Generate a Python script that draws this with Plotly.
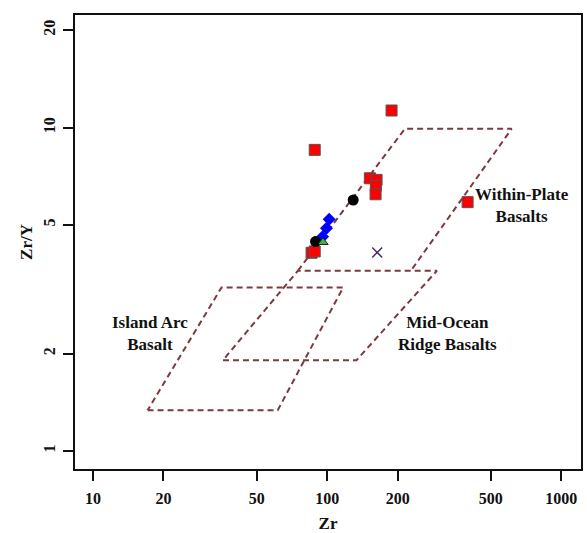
import math
import plotly.graph_objects as go

# ---- data ----
red_zr = [188.4, 88.5, 152.2, 162.6, 161.5, 161.0, 398.0, 85.8, 88.5]
red_zry = [11.29, 8.53, 6.97, 6.89, 6.61, 6.22, 5.88, 4.10, 4.14]

black_zr = [129.2, 89.2]
black_zry = [5.97, 4.44]

blue_zr = [102.0, 99.4, 95.6]
blue_zry = [5.21, 4.88, 4.60]

green_zr = [96.0]
green_zry = [4.42]

purple_zr = [163.6]
purple_zry = [4.11]

# field boundaries
iab_zr = [17.1, 61.5, 117.1, 35.4, 17.1]
iab_zry = [1.336, 1.336, 3.205, 3.205, 1.336]

morb_zr = [35.9, 133.5, 294.3, 75.0, 35.9]
morb_zry = [1.909, 1.909, 3.608, 3.608, 1.909]

# within-plate field (its lower edge coincides with the MORB upper edge)
wpb_zr = [75.0, 214.8, 613.8, 227.9]
wpb_zry = [3.608, 9.91, 9.91, 3.608]

x_ticks = [10, 20, 50, 100, 200, 500, 1000]
y_ticks = [1, 2, 5, 10, 20]

labels = [
    ("Island Arc<br>Basalt", 17.56, 2.315),
    ("Mid-Ocean<br>Ridge Basalts", 328, 2.315),
    ("Within-Plate<br>Basalts", 679, 5.73),
]

FONT = "Liberation Serif"
field_color = "#7b3a3f"
TXT = "#111111"

fig = go.Figure()
for fx, fy in [(iab_zr, iab_zry), (morb_zr, morb_zry), (wpb_zr, wpb_zry)]:
    fig.add_trace(go.Scatter(x=fx, y=fy, mode="lines",
                             line=dict(color=field_color, width=2, dash="6px,4px"),
                             hoverinfo="skip", showlegend=False))

fig.add_trace(go.Scatter(x=red_zr, y=red_zry, mode="markers",
                         marker=dict(symbol="square", size=11, color="#ff0000",
                                     line=dict(color="#555555", width=1)),
                         showlegend=False))
fig.add_trace(go.Scatter(x=blue_zr, y=blue_zry, mode="markers",
                         marker=dict(symbol="diamond", size=10, color="#0000ff",
                                     line=dict(color="#0000ff", width=0)),
                         showlegend=False))
fig.add_trace(go.Scatter(x=black_zr, y=black_zry, mode="markers",
                         marker=dict(symbol="circle", size=11, color="#000000"),
                         showlegend=False))
fig.add_trace(go.Scatter(x=green_zr, y=green_zry, mode="markers",
                         marker=dict(symbol="triangle-up", size=9, color="#33bb33",
                                     line=dict(color="#222222", width=1)),
                         showlegend=False))
fig.add_trace(go.Scatter(x=purple_zr, y=purple_zry, mode="markers",
                         marker=dict(symbol="x-thin", size=10,
                                     line=dict(color="#4a2a6a", width=1.5)),
                         showlegend=False))

for txt, lx, ly in labels:
    fig.add_annotation(x=math.log10(lx), y=math.log10(ly), xref="x", yref="y",
                       text=f"<b>{txt}</b>", showarrow=False,
                       font=dict(family=FONT, size=17, color=TXT),
                       xanchor="center", yanchor="middle", align="center")

fig.update_layout(
    width=587, height=533,
    margin=dict(l=75, r=6, t=15, b=64),
    paper_bgcolor="white", plot_bgcolor="white",
    font=dict(family=FONT, color=TXT),
)
fig.update_xaxes(type="log", range=[0.9231, 3.0842], automargin=False,
                 tickvals=x_ticks, ticktext=[f"<b>{v}</b>" for v in x_ticks],
                 tickfont=dict(family=FONT, size=16, color=TXT),
                 ticks="outside", ticklen=10, tickwidth=2, tickcolor=TXT,
                 ticklabelstandoff=4,
                 showline=True, linecolor=TXT, linewidth=2, mirror=True,
                 showgrid=False, zeroline=False,
                 title=dict(text="<b>Zr</b>", font=dict(family=FONT, size=17, color=TXT),
                            standoff=16))
fig.update_yaxes(type="log", range=[-0.0557, 1.348], automargin=False,
                 tickvals=y_ticks, ticktext=[f"<b>{v}</b>" for v in y_ticks],
                 tickfont=dict(family=FONT, size=16, color=TXT),
                 tickangle=-90,
                 ticks="outside", ticklen=10, tickwidth=2, tickcolor=TXT,
                 ticklabelstandoff=2,
                 showline=True, linecolor=TXT, linewidth=2, mirror=True,
                 showgrid=False, zeroline=False,
                 title=dict(text="<b>Zr/Y</b>", font=dict(family=FONT, size=17, color=TXT),
                            standoff=4))

fig.write_html("out.html")
